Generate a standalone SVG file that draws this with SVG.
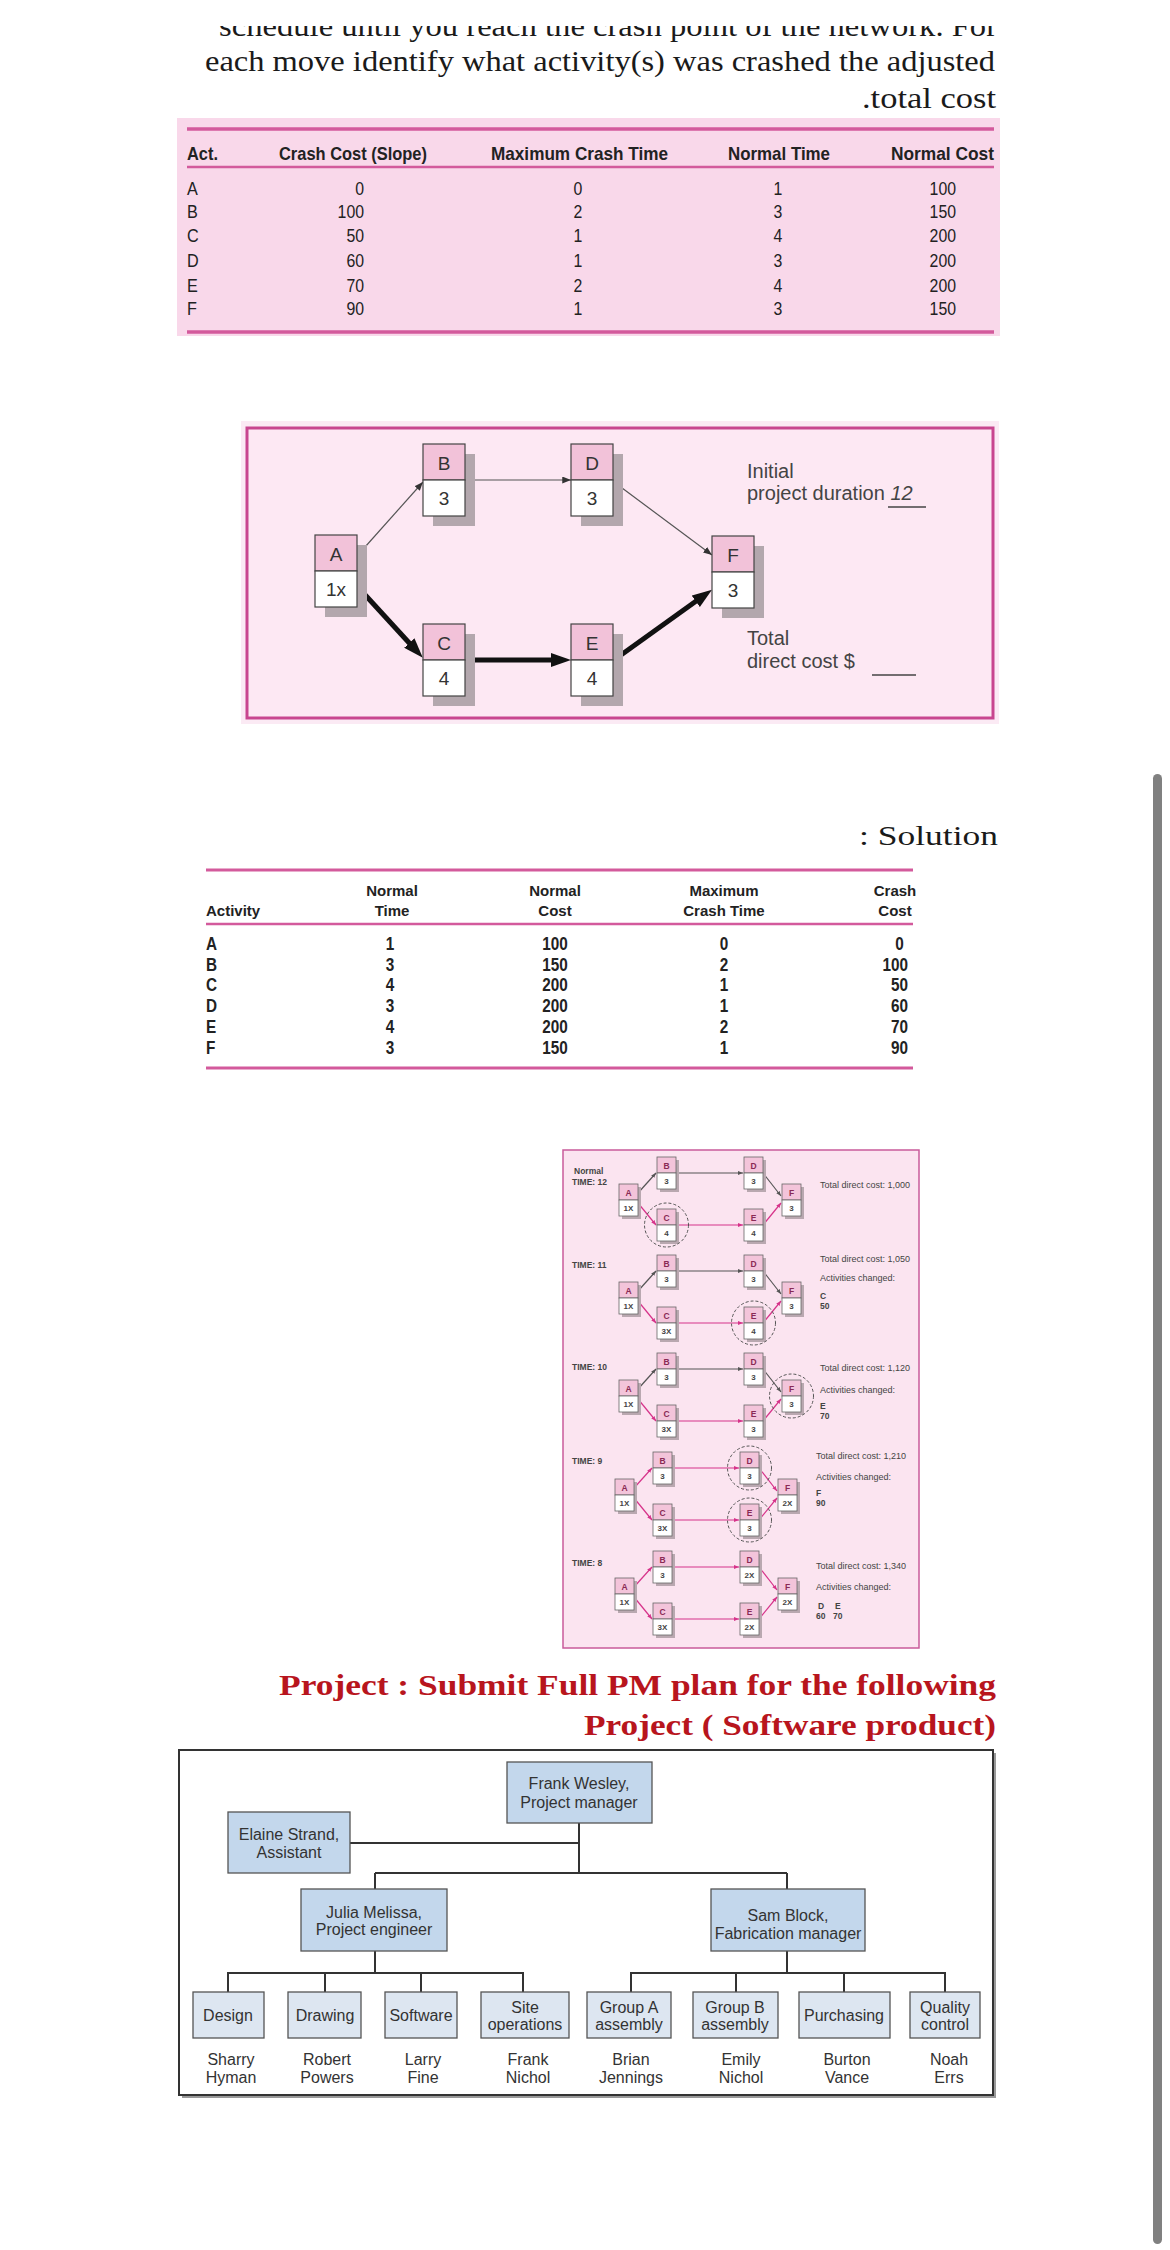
<svg xmlns="http://www.w3.org/2000/svg" width="1170" height="2250" viewBox="0 0 1170 2250">
<style>
.ser{font-family:"Liberation Serif","Times New Roman",serif;fill:#1a1a1a}
.th{font-family:"Liberation Sans",Arial,sans-serif;font-weight:bold;font-size:19px;fill:#222}
.tv{font-family:"Liberation Sans",Arial,sans-serif;font-size:18px;fill:#222}
.sh{font-family:"Liberation Sans",Arial,sans-serif;font-weight:bold;font-size:15px;fill:#222}
.sv{font-family:"Liberation Sans",Arial,sans-serif;font-weight:bold;font-size:18px;fill:#222}
.nl{font-family:"Liberation Sans",Arial,sans-serif;font-size:19px;fill:#333;text-anchor:middle}
.nt{font-family:"Liberation Sans",Arial,sans-serif;font-size:20px;fill:#444}
.sl{font-family:"Liberation Sans",Arial,sans-serif;font-size:8.5px;font-weight:bold;fill:#8a2a55;text-anchor:middle}
.sn{font-family:"Liberation Sans",Arial,sans-serif;font-size:8px;font-weight:bold;fill:#444;text-anchor:middle}
.st{font-family:"Liberation Sans",Arial,sans-serif;font-size:9px;fill:#444}
.stb{font-family:"Liberation Sans",Arial,sans-serif;font-size:8.5px;font-weight:bold;fill:#444}
.ob{font-family:"Liberation Sans",Arial,sans-serif;font-size:16px;fill:#333;text-anchor:middle}
.pink{stroke:#d35a9c;fill:none}
.dk{stroke:#555;stroke-width:1.2;fill:none}
.mg{stroke:#d6338a;stroke-width:1.2;fill:none}
.dc{fill:none;stroke:#555;stroke-width:1;stroke-dasharray:3 2}
.bx1{fill:#c3d7ec;stroke:#555;stroke-width:1.3}
.bx2{fill:#dde6f1;stroke:#555;stroke-width:1.3}
.ol{stroke:#333;stroke-width:2;fill:none}
</style>
<defs>
<clipPath id="cl1"><rect x="0" y="26" width="1170" height="30"/></clipPath>
<marker id="mThin" viewBox="0 0 10 8" refX="10" refY="4" markerWidth="9" markerHeight="7" markerUnits="userSpaceOnUse" orient="auto"><path d="M0,0 L10,4 L0,8z" fill="#333"/></marker>
<marker id="mThick" viewBox="0 0 20 14" refX="4" refY="7" markerWidth="20" markerHeight="14" markerUnits="userSpaceOnUse" orient="auto"><path d="M0,0 L20,7 L0,14z" fill="#111"/></marker>
<marker id="mDk" viewBox="0 0 10 8" refX="10" refY="4" markerWidth="5" markerHeight="4" markerUnits="userSpaceOnUse" orient="auto"><path d="M0,0 L10,4 L0,8z" fill="#555"/></marker>
<marker id="mMg" viewBox="0 0 10 8" refX="10" refY="4" markerWidth="5" markerHeight="4" markerUnits="userSpaceOnUse" orient="auto"><path d="M0,0 L10,4 L0,8z" fill="#d6338a"/></marker>
<g id="bigBox">
<rect x="10" y="10" width="42" height="72" fill="#b3a7ad"/>
<rect x="0" y="0" width="42" height="36" fill="#f2c2d9" stroke="#444" stroke-width="1.2"/>
<rect x="0" y="36" width="42" height="36" fill="#ffffff" stroke="#444" stroke-width="1.2"/>
</g>
<g id="sb">
<rect x="3" y="3" width="19" height="32" fill="#b9a8b0"/>
<rect x="0" y="0" width="19" height="16" fill="#f3c4da" stroke="#666" stroke-width="0.8"/>
<rect x="0" y="16" width="19" height="16" fill="#ffffff" stroke="#666" stroke-width="0.8"/>
</g>
</defs>
<rect x="0" y="0" width="1170" height="2250" fill="#ffffff"/>

<g id="intro">
<text class="ser" x="997" y="36" font-size="30" text-anchor="end" textLength="778" lengthAdjust="spacingAndGlyphs" clip-path="url(#cl1)">schedule until you reach the crash point of the network. For</text>
<text class="ser" x="995" y="71" font-size="30" text-anchor="end" textLength="790" lengthAdjust="spacingAndGlyphs">each move identify what activity(s) was crashed the adjusted</text>
<text class="ser" x="996" y="108" font-size="30" text-anchor="end" textLength="134" lengthAdjust="spacingAndGlyphs">.total cost</text>
</g>

<g id="table1">
<rect x="177" y="118" width="823" height="218" fill="#f9d8ea"/>
<line class="pink" x1="187" y1="129" x2="994" y2="129" stroke-width="3.5"/>
<line class="pink" x1="187" y1="167" x2="994" y2="167" stroke-width="2.5"/>
<line class="pink" x1="187" y1="332" x2="994" y2="332" stroke-width="3.5"/>
<text class="th" x="187" y="160" textLength="31" lengthAdjust="spacingAndGlyphs">Act.</text>
<text class="th" x="279" y="160" textLength="148" lengthAdjust="spacingAndGlyphs">Crash Cost (Slope)</text>
<text class="th" x="491" y="160" textLength="177" lengthAdjust="spacingAndGlyphs">Maximum Crash Time</text>
<text class="th" x="728" y="160" textLength="102" lengthAdjust="spacingAndGlyphs">Normal Time</text>
<text class="th" x="891" y="160" textLength="103" lengthAdjust="spacingAndGlyphs">Normal Cost</text>
<g transform="translate(187,0) scale(0.9,1)" class="tv">
<text x="0" y="195">A</text><text x="0" y="218">B</text><text x="0" y="242">C</text><text x="0" y="267">D</text><text x="0" y="292">E</text><text x="0" y="315">F</text>
</g>
<g transform="translate(364,0) scale(0.88,1)" class="tv" text-anchor="end">
<text x="0" y="195">0</text><text x="0" y="218">100</text><text x="0" y="242">50</text><text x="0" y="267">60</text><text x="0" y="292">70</text><text x="0" y="315">90</text>
</g>
<g transform="translate(578,0) scale(0.88,1)" class="tv" text-anchor="middle">
<text x="0" y="195">0</text><text x="0" y="218">2</text><text x="0" y="242">1</text><text x="0" y="267">1</text><text x="0" y="292">2</text><text x="0" y="315">1</text>
</g>
<g transform="translate(778,0) scale(0.88,1)" class="tv" text-anchor="middle">
<text x="0" y="195">1</text><text x="0" y="218">3</text><text x="0" y="242">4</text><text x="0" y="267">3</text><text x="0" y="292">4</text><text x="0" y="315">3</text>
</g>
<g transform="translate(956,0) scale(0.88,1)" class="tv" text-anchor="end">
<text x="0" y="195">100</text><text x="0" y="218">150</text><text x="0" y="242">200</text><text x="0" y="267">200</text><text x="0" y="292">200</text><text x="0" y="315">150</text>
</g>
</g>

<g id="net1-frame">
<rect x="241" y="421" width="758" height="303" fill="#fbeaf4"/>
<rect x="247" y="428" width="746" height="290" fill="#fde8f3" stroke="#c8468f" stroke-width="3"/>
</g>
<g id="net1-connectors">
<line class="dk" x1="357" y1="556" x2="423" y2="482" stroke="#444" marker-end="url(#mThin)"/>
<line class="dk" x1="465" y1="480" x2="571" y2="480" stroke="#444" marker-end="url(#mThin)"/>
<line class="dk" x1="614" y1="482" x2="712" y2="555" stroke="#444" marker-end="url(#mThin)"/>
<line x1="357" y1="586" x2="412" y2="646" stroke="#111" stroke-width="5" marker-end="url(#mThick)"/>
<line x1="465" y1="660" x2="555" y2="660" stroke="#111" stroke-width="5" marker-end="url(#mThick)"/>
<line x1="614" y1="660" x2="699" y2="599" stroke="#111" stroke-width="5" marker-end="url(#mThick)"/>
</g>
<g id="net1-A" transform="translate(315,535)"><use href="#bigBox"/><text class="nl" x="21" y="26">A</text><text class="nl" x="21" y="61">1x</text></g>
<g id="net1-B" transform="translate(423,444)"><use href="#bigBox"/><text class="nl" x="21" y="26">B</text><text class="nl" x="21" y="61">3</text></g>
<g id="net1-D" transform="translate(571,444)"><use href="#bigBox"/><text class="nl" x="21" y="26">D</text><text class="nl" x="21" y="61">3</text></g>
<g id="net1-C" transform="translate(423,624)"><use href="#bigBox"/><text class="nl" x="21" y="26">C</text><text class="nl" x="21" y="61">4</text></g>
<g id="net1-E" transform="translate(571,624)"><use href="#bigBox"/><text class="nl" x="21" y="26">E</text><text class="nl" x="21" y="61">4</text></g>
<g id="net1-F" transform="translate(712,536)"><use href="#bigBox"/><text class="nl" x="21" y="26">F</text><text class="nl" x="21" y="61">3</text></g>
<g id="net1-notes">
<text class="nt" x="747" y="478">Initial</text>
<text class="nt" x="747" y="500">project duration <tspan font-style="italic">12</tspan></text>
<line x1="888" y1="507" x2="926" y2="507" stroke="#444" stroke-width="1.3"/>
<text class="nt" x="747" y="645">Total</text>
<text class="nt" x="747" y="668">direct cost  $</text>
<line x1="872" y1="675" x2="916" y2="675" stroke="#444" stroke-width="1.3"/>
</g>

<text class="ser" x="998" y="845" font-size="28" text-anchor="end" textLength="139" lengthAdjust="spacingAndGlyphs">: Solution</text>
<g id="table2">
<line class="pink" x1="206" y1="870" x2="913" y2="870" stroke-width="3"/>
<line class="pink" x1="206" y1="924" x2="913" y2="924" stroke-width="2.5"/>
<line class="pink" x1="206" y1="1068" x2="913" y2="1068" stroke-width="3"/>
<text class="sh" x="206" y="916">Activity</text>
<g class="sh" text-anchor="middle">
<text x="392" y="896">Normal</text><text x="392" y="916">Time</text>
<text x="555" y="896">Normal</text><text x="555" y="916">Cost</text>
<text x="724" y="896">Maximum</text><text x="724" y="916">Crash Time</text>
<text x="895" y="896">Crash</text><text x="895" y="916">Cost</text>
</g>
<g class="sv" transform="translate(206,0) scale(0.85,1)">
<text x="0" y="950">A</text><text x="0" y="971">B</text><text x="0" y="991">C</text><text x="0" y="1012">D</text><text x="0" y="1033">E</text><text x="0" y="1054">F</text>
</g>
<g class="sv" text-anchor="middle" transform="translate(390,0) scale(0.85,1)">
<text x="0" y="950">1</text><text x="0" y="971">3</text><text x="0" y="991">4</text><text x="0" y="1012">3</text><text x="0" y="1033">4</text><text x="0" y="1054">3</text>
</g>
<g class="sv" text-anchor="middle" transform="translate(555,0) scale(0.85,1)">
<text x="0" y="950">100</text><text x="0" y="971">150</text><text x="0" y="991">200</text><text x="0" y="1012">200</text><text x="0" y="1033">200</text><text x="0" y="1054">150</text>
</g>
<g class="sv" text-anchor="middle" transform="translate(724,0) scale(0.85,1)">
<text x="0" y="950">0</text><text x="0" y="971">2</text><text x="0" y="991">1</text><text x="0" y="1012">1</text><text x="0" y="1033">2</text><text x="0" y="1054">1</text>
</g>
<g class="sv" text-anchor="end" transform="translate(908,0) scale(0.85,1)">
<text x="-5" y="950">0</text><text x="0" y="971">100</text><text x="0" y="991">50</text><text x="0" y="1012">60</text><text x="0" y="1033">70</text><text x="0" y="1054">90</text>
</g>
</g>

<rect id="net2-frame" x="563" y="1150" width="356" height="498" fill="#fbe4f0" stroke="#c95b9b" stroke-width="1.5"/>
<g id="net2-connectors">
<line class="dk" x1="638" y1="1193" x2="656" y2="1173" marker-end="url(#mDk)"/>
<line class="dk" x1="676" y1="1173" x2="743" y2="1173" marker-end="url(#mDk)"/>
<line class="dk" x1="763" y1="1173" x2="781" y2="1196" marker-end="url(#mDk)"/>
<line class="mg" x1="638" y1="1203" x2="656" y2="1225" marker-end="url(#mMg)"/>
<line class="mg" x1="676" y1="1225" x2="743" y2="1225" marker-end="url(#mMg)"/>
<line class="mg" x1="763" y1="1225" x2="781" y2="1203" marker-end="url(#mMg)"/>
<line class="dk" x1="638" y1="1291" x2="656" y2="1271" marker-end="url(#mDk)"/>
<line class="dk" x1="676" y1="1271" x2="743" y2="1271" marker-end="url(#mDk)"/>
<line class="dk" x1="763" y1="1271" x2="781" y2="1294" marker-end="url(#mDk)"/>
<line class="mg" x1="638" y1="1301" x2="656" y2="1323" marker-end="url(#mMg)"/>
<line class="mg" x1="676" y1="1323" x2="743" y2="1323" marker-end="url(#mMg)"/>
<line class="mg" x1="763" y1="1323" x2="781" y2="1301" marker-end="url(#mMg)"/>
<line class="dk" x1="638" y1="1389" x2="656" y2="1369" marker-end="url(#mDk)"/>
<line class="dk" x1="676" y1="1369" x2="743" y2="1369" marker-end="url(#mDk)"/>
<line class="dk" x1="763" y1="1369" x2="781" y2="1392" marker-end="url(#mDk)"/>
<line class="mg" x1="638" y1="1399" x2="656" y2="1421" marker-end="url(#mMg)"/>
<line class="mg" x1="676" y1="1421" x2="743" y2="1421" marker-end="url(#mMg)"/>
<line class="mg" x1="763" y1="1421" x2="781" y2="1399" marker-end="url(#mMg)"/>
<line class="mg" x1="634" y1="1488" x2="652" y2="1468" marker-end="url(#mMg)"/>
<line class="mg" x1="672" y1="1468" x2="739" y2="1468" marker-end="url(#mMg)"/>
<line class="mg" x1="759" y1="1468" x2="777" y2="1491" marker-end="url(#mMg)"/>
<line class="mg" x1="634" y1="1498" x2="652" y2="1520" marker-end="url(#mMg)"/>
<line class="mg" x1="672" y1="1520" x2="739" y2="1520" marker-end="url(#mMg)"/>
<line class="mg" x1="759" y1="1520" x2="777" y2="1498" marker-end="url(#mMg)"/>
<line class="mg" x1="634" y1="1587" x2="652" y2="1567" marker-end="url(#mMg)"/>
<line class="mg" x1="672" y1="1567" x2="739" y2="1567" marker-end="url(#mMg)"/>
<line class="mg" x1="759" y1="1567" x2="777" y2="1590" marker-end="url(#mMg)"/>
<line class="mg" x1="634" y1="1597" x2="652" y2="1619" marker-end="url(#mMg)"/>
<line class="mg" x1="672" y1="1619" x2="739" y2="1619" marker-end="url(#mMg)"/>
<line class="mg" x1="759" y1="1619" x2="777" y2="1597" marker-end="url(#mMg)"/>
</g>

<g id="r1-A" transform="translate(619,1184)"><use href="#sb"/><text class="sl" x="9.5" y="11.5">A</text><text class="sn" x="9.5" y="27">1X</text></g>
<g id="r1-B" transform="translate(657,1157)"><use href="#sb"/><text class="sl" x="9.5" y="11.5">B</text><text class="sn" x="9.5" y="27">3</text></g>
<g id="r1-D" transform="translate(744,1157)"><use href="#sb"/><text class="sl" x="9.5" y="11.5">D</text><text class="sn" x="9.5" y="27">3</text></g>
<g id="r1-F" transform="translate(782,1184)"><use href="#sb"/><text class="sl" x="9.5" y="11.5">F</text><text class="sn" x="9.5" y="27">3</text></g>
<g id="r1-C" transform="translate(657,1209)"><use href="#sb"/><text class="sl" x="9.5" y="11.5">C</text><text class="sn" x="9.5" y="27">4</text></g>
<g id="r1-E" transform="translate(744,1209)"><use href="#sb"/><text class="sl" x="9.5" y="11.5">E</text><text class="sn" x="9.5" y="27">4</text></g>
<circle class="dc" cx="666.5" cy="1225" r="22"/>
<text class="stb" x="574" y="1174">Normal</text>
<text class="stb" x="572" y="1185">TIME: 12</text>
<text class="st" x="820" y="1188">Total direct cost: 1,000</text>

<g id="r2-A" transform="translate(619,1282)"><use href="#sb"/><text class="sl" x="9.5" y="11.5">A</text><text class="sn" x="9.5" y="27">1X</text></g>
<g id="r2-B" transform="translate(657,1255)"><use href="#sb"/><text class="sl" x="9.5" y="11.5">B</text><text class="sn" x="9.5" y="27">3</text></g>
<g id="r2-D" transform="translate(744,1255)"><use href="#sb"/><text class="sl" x="9.5" y="11.5">D</text><text class="sn" x="9.5" y="27">3</text></g>
<g id="r2-F" transform="translate(782,1282)"><use href="#sb"/><text class="sl" x="9.5" y="11.5">F</text><text class="sn" x="9.5" y="27">3</text></g>
<g id="r2-C" transform="translate(657,1307)"><use href="#sb"/><text class="sl" x="9.5" y="11.5">C</text><text class="sn" x="9.5" y="27">3X</text></g>
<g id="r2-E" transform="translate(744,1307)"><use href="#sb"/><text class="sl" x="9.5" y="11.5">E</text><text class="sn" x="9.5" y="27">4</text></g>
<circle class="dc" cx="753.5" cy="1323" r="22"/>
<text class="stb" x="572" y="1268">TIME: 11</text>
<text class="st" x="820" y="1262">Total direct cost: 1,050</text>
<text class="st" x="820" y="1281">Activities changed:</text>
<text class="stb" x="820" y="1299">C</text>
<text class="stb" x="820" y="1309">50</text>

<g id="r3-A" transform="translate(619,1380)"><use href="#sb"/><text class="sl" x="9.5" y="11.5">A</text><text class="sn" x="9.5" y="27">1X</text></g>
<g id="r3-B" transform="translate(657,1353)"><use href="#sb"/><text class="sl" x="9.5" y="11.5">B</text><text class="sn" x="9.5" y="27">3</text></g>
<g id="r3-D" transform="translate(744,1353)"><use href="#sb"/><text class="sl" x="9.5" y="11.5">D</text><text class="sn" x="9.5" y="27">3</text></g>
<g id="r3-F" transform="translate(782,1380)"><use href="#sb"/><text class="sl" x="9.5" y="11.5">F</text><text class="sn" x="9.5" y="27">3</text></g>
<g id="r3-C" transform="translate(657,1405)"><use href="#sb"/><text class="sl" x="9.5" y="11.5">C</text><text class="sn" x="9.5" y="27">3X</text></g>
<g id="r3-E" transform="translate(744,1405)"><use href="#sb"/><text class="sl" x="9.5" y="11.5">E</text><text class="sn" x="9.5" y="27">3</text></g>
<circle class="dc" cx="791.5" cy="1396" r="22"/>
<text class="stb" x="572" y="1370">TIME: 10</text>
<text class="st" x="820" y="1371">Total direct cost: 1,120</text>
<text class="st" x="820" y="1393">Activities changed:</text>
<text class="stb" x="820" y="1409">E</text>
<text class="stb" x="820" y="1419">70</text>

<g id="r4-A" transform="translate(615,1479)"><use href="#sb"/><text class="sl" x="9.5" y="11.5">A</text><text class="sn" x="9.5" y="27">1X</text></g>
<g id="r4-B" transform="translate(653,1452)"><use href="#sb"/><text class="sl" x="9.5" y="11.5">B</text><text class="sn" x="9.5" y="27">3</text></g>
<g id="r4-D" transform="translate(740,1452)"><use href="#sb"/><text class="sl" x="9.5" y="11.5">D</text><text class="sn" x="9.5" y="27">3</text></g>
<g id="r4-F" transform="translate(778,1479)"><use href="#sb"/><text class="sl" x="9.5" y="11.5">F</text><text class="sn" x="9.5" y="27">2X</text></g>
<g id="r4-C" transform="translate(653,1504)"><use href="#sb"/><text class="sl" x="9.5" y="11.5">C</text><text class="sn" x="9.5" y="27">3X</text></g>
<g id="r4-E" transform="translate(740,1504)"><use href="#sb"/><text class="sl" x="9.5" y="11.5">E</text><text class="sn" x="9.5" y="27">3</text></g>
<circle class="dc" cx="749.5" cy="1468" r="22"/>
<circle class="dc" cx="749.5" cy="1520" r="22"/>
<text class="stb" x="572" y="1464">TIME: 9</text>
<text class="st" x="816" y="1459">Total direct cost: 1,210</text>
<text class="st" x="816" y="1480">Activities changed:</text>
<text class="stb" x="816" y="1496">F</text>
<text class="stb" x="816" y="1506">90</text>

<g id="r5-A" transform="translate(615,1578)"><use href="#sb"/><text class="sl" x="9.5" y="11.5">A</text><text class="sn" x="9.5" y="27">1X</text></g>
<g id="r5-B" transform="translate(653,1551)"><use href="#sb"/><text class="sl" x="9.5" y="11.5">B</text><text class="sn" x="9.5" y="27">3</text></g>
<g id="r5-D" transform="translate(740,1551)"><use href="#sb"/><text class="sl" x="9.5" y="11.5">D</text><text class="sn" x="9.5" y="27">2X</text></g>
<g id="r5-F" transform="translate(778,1578)"><use href="#sb"/><text class="sl" x="9.5" y="11.5">F</text><text class="sn" x="9.5" y="27">2X</text></g>
<g id="r5-C" transform="translate(653,1603)"><use href="#sb"/><text class="sl" x="9.5" y="11.5">C</text><text class="sn" x="9.5" y="27">3X</text></g>
<g id="r5-E" transform="translate(740,1603)"><use href="#sb"/><text class="sl" x="9.5" y="11.5">E</text><text class="sn" x="9.5" y="27">2X</text></g>
<text class="stb" x="572" y="1566">TIME: 8</text>
<text class="st" x="816" y="1569">Total direct cost: 1,340</text>
<text class="st" x="816" y="1590">Activities changed:</text>
<text class="stb" x="818" y="1609">D</text>
<text class="stb" x="835" y="1609">E</text>
<text class="stb" x="816" y="1619">60</text>
<text class="stb" x="833" y="1619">70</text>

<g id="project-title" font-family="'Liberation Serif','Times New Roman',serif" font-weight="bold" fill="#b8151d" font-size="30">
<text x="996" y="1695" text-anchor="end" textLength="717" lengthAdjust="spacingAndGlyphs">Project : Submit Full PM plan for the following</text>
<text x="996" y="1735" text-anchor="end" textLength="412" lengthAdjust="spacingAndGlyphs">Project ( Software product)</text>
</g>

<rect x="182" y="1753" width="814" height="345" fill="#999"/>
<rect id="org-frame" x="179" y="1750" width="814" height="345" fill="#ffffff" stroke="#333" stroke-width="2"/>
<g id="org-connectors" class="ol">
<line x1="350" y1="1843" x2="579" y2="1843"/>
<line x1="579" y1="1823" x2="579" y2="1873"/>
<line x1="375" y1="1873" x2="787" y2="1873"/>
<line x1="375" y1="1873" x2="375" y2="1889"/>
<line x1="787" y1="1873" x2="787" y2="1889"/>
<line x1="375" y1="1951" x2="375" y2="1973"/>
<line x1="227" y1="1973" x2="524" y2="1973"/>
<line x1="228" y1="1973" x2="228" y2="1992"/>
<line x1="325" y1="1973" x2="325" y2="1992"/>
<line x1="421" y1="1973" x2="421" y2="1992"/>
<line x1="523" y1="1973" x2="523" y2="1992"/>
<line x1="787" y1="1951" x2="787" y2="1973"/>
<line x1="630" y1="1973" x2="946" y2="1973"/>
<line x1="631" y1="1973" x2="631" y2="1992"/>
<line x1="736" y1="1973" x2="736" y2="1992"/>
<line x1="844" y1="1973" x2="844" y2="1992"/>
<line x1="945" y1="1973" x2="945" y2="1992"/>
</g>
<g id="org-frank"><rect class="bx1" x="507" y="1762" width="145" height="61"/><text class="ob" x="579" y="1789">Frank Wesley,</text><text class="ob" x="579" y="1808">Project manager</text></g>
<g id="org-elaine"><rect class="bx1" x="228" y="1812" width="122" height="61"/><text class="ob" x="289" y="1840">Elaine Strand,</text><text class="ob" x="289" y="1858">Assistant</text></g>
<g id="org-julia"><rect class="bx1" x="301" y="1889" width="146" height="62"/><text class="ob" x="374" y="1918">Julia Melissa,</text><text class="ob" x="374" y="1935">Project engineer</text></g>
<g id="org-sam"><rect class="bx1" x="711" y="1889" width="154" height="62"/><text class="ob" x="788" y="1921">Sam Block,</text><text class="ob" x="788" y="1939">Fabrication manager</text></g>
<g id="org-design"><rect class="bx2" x="193" y="1992" width="71" height="46"/><text class="ob" x="228" y="2021">Design</text></g>
<g id="org-drawing"><rect class="bx2" x="288" y="1992" width="73" height="46"/><text class="ob" x="325" y="2021">Drawing</text></g>
<g id="org-software"><rect class="bx2" x="385" y="1992" width="72" height="46"/><text class="ob" x="421" y="2021">Software</text></g>
<g id="org-site"><rect class="bx2" x="481" y="1992" width="88" height="46"/><text class="ob" x="525" y="2013">Site</text><text class="ob" x="525" y="2030">operations</text></g>
<g id="org-groupa"><rect class="bx2" x="587" y="1992" width="84" height="46"/><text class="ob" x="629" y="2013">Group A</text><text class="ob" x="629" y="2030">assembly</text></g>
<g id="org-groupb"><rect class="bx2" x="693" y="1992" width="85" height="46"/><text class="ob" x="735" y="2013">Group B</text><text class="ob" x="735" y="2030">assembly</text></g>
<g id="org-purchasing"><rect class="bx2" x="799" y="1992" width="91" height="46"/><text class="ob" x="844" y="2021">Purchasing</text></g>
<g id="org-quality"><rect class="bx2" x="910" y="1992" width="70" height="46"/><text class="ob" x="945" y="2013">Quality</text><text class="ob" x="945" y="2030">control</text></g>
<g id="org-names">
<text class="ob" x="231" y="2065">Sharry</text><text class="ob" x="231" y="2083">Hyman</text>
<text class="ob" x="327" y="2065">Robert</text><text class="ob" x="327" y="2083">Powers</text>
<text class="ob" x="423" y="2065">Larry</text><text class="ob" x="423" y="2083">Fine</text>
<text class="ob" x="528" y="2065">Frank</text><text class="ob" x="528" y="2083">Nichol</text>
<text class="ob" x="631" y="2065">Brian</text><text class="ob" x="631" y="2083">Jennings</text>
<text class="ob" x="741" y="2065">Emily</text><text class="ob" x="741" y="2083">Nichol</text>
<text class="ob" x="847" y="2065">Burton</text><text class="ob" x="847" y="2083">Vance</text>
<text class="ob" x="949" y="2065">Noah</text><text class="ob" x="949" y="2083">Errs</text>
</g>

<rect x="1153" y="774" width="9" height="1470" rx="4.5" fill="#808080"/>
</svg>
